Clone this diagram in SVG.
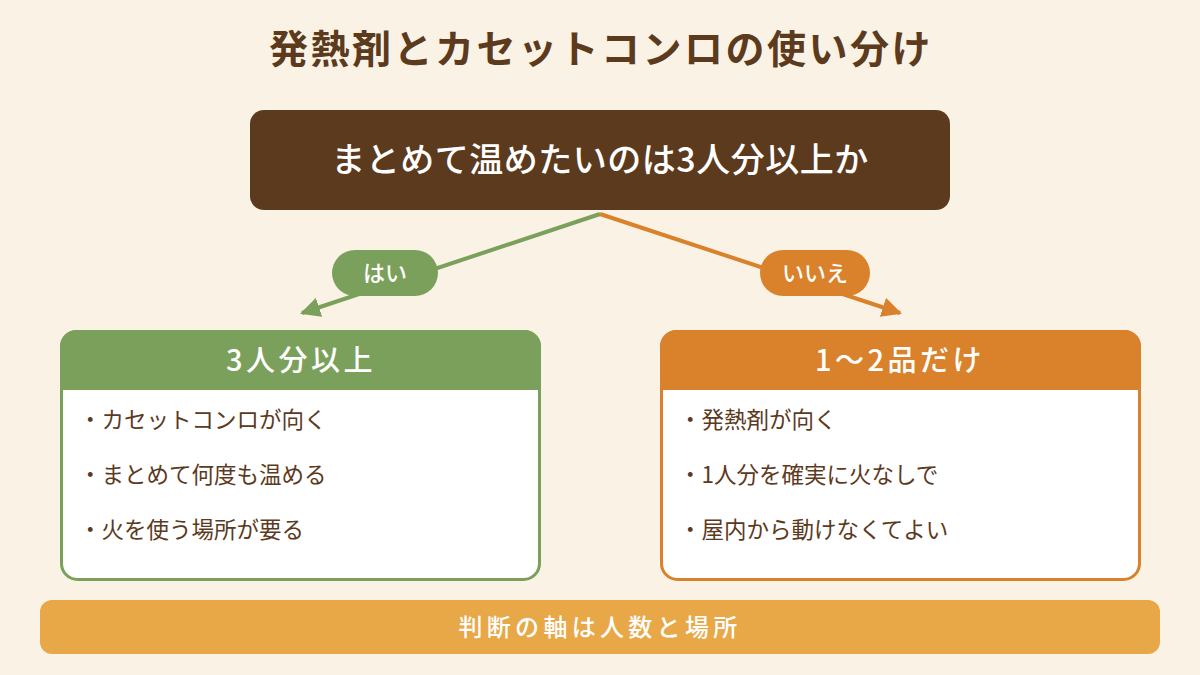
<svg xmlns="http://www.w3.org/2000/svg" width="1200" height="675" viewBox="0 0 1200 675">
<defs>
<style>
text{font-family:"Noto Sans CJK JP","Noto Sans",sans-serif;}
.title{font-size:39px;font-weight:700;fill:#5C3A1E;letter-spacing:2.5px;}
.q{font-size:34px;font-weight:500;fill:#fff;letter-spacing:0.5px;}
.pill{font-size:22px;font-weight:500;fill:#fff;}
.head{font-size:29px;font-weight:500;fill:#fff;letter-spacing:3.5px;}
.item{font-size:22.5px;fill:#5C3A1E;}
.foot{font-size:24px;font-weight:500;fill:#fff;letter-spacing:4.3px;}
</style>
<marker id="ag" viewBox="0 0 10 10" refX="9" refY="5" markerWidth="5" markerHeight="5" orient="auto" markerUnits="strokeWidth"><path d="M0,0 L10,5 L0,10 Z" fill="#7BA05B"/></marker>
<marker id="ao" viewBox="0 0 10 10" refX="9" refY="5" markerWidth="5" markerHeight="5" orient="auto" markerUnits="strokeWidth"><path d="M0,0 L10,5 L0,10 Z" fill="#D9822B"/></marker>
</defs>
<rect width="1200" height="675" fill="#FAF2E4"/>
<text class="title" x="601" y="63" text-anchor="middle">発熱剤とカセットコンロの使い分け</text>

<g id="connectors">
<line x1="600" y1="214" x2="302" y2="313" stroke="#7BA05B" stroke-width="4" marker-end="url(#ag)"/>
<line x1="600" y1="214" x2="900" y2="313" stroke="#D9822B" stroke-width="4" marker-end="url(#ao)"/>
</g>

<g id="question">
<rect x="250" y="110" width="700" height="100" rx="14" fill="#5C3A1E"/>
<text class="q" x="600" y="172" text-anchor="middle">まとめて温めたいのは3人分以上か</text>
</g>

<g id="yes-label">
<rect x="332" y="250" width="106" height="46" rx="23" fill="#7BA05B"/>
<text class="pill" x="385" y="281" text-anchor="middle">はい</text>
</g>
<g id="no-label">
<rect x="760" y="250" width="110" height="46" rx="23" fill="#D9822B"/>
<text class="pill" x="815" y="281" text-anchor="middle">いいえ</text>
</g>

<g id="left-card">
<rect x="61.5" y="331.5" width="478" height="248" rx="16" fill="#fff" stroke="#7BA05B" stroke-width="3"/>
<path d="M60,390 V346 A16,16 0 0 1 76,330 H525 A16,16 0 0 1 541,346 V390 Z" fill="#7BA05B"/>
<text class="head" x="301" y="371" text-anchor="middle">3人分以上</text>
<text class="item" x="79" y="428">・カセットコンロが向く</text>
<text class="item" x="79" y="483">・まとめて何度も温める</text>
<text class="item" x="79" y="538">・火を使う場所が要る</text>
</g>

<g id="right-card">
<rect x="661.5" y="331.5" width="478" height="248" rx="16" fill="#fff" stroke="#D9822B" stroke-width="3"/>
<path d="M660,390 V346 A16,16 0 0 1 676,330 H1125 A16,16 0 0 1 1141,346 V390 Z" fill="#D9822B"/>
<text class="head" x="900" y="371" text-anchor="middle">1〜2品だけ</text>
<text class="item" x="679" y="428">・発熱剤が向く</text>
<text class="item" x="679" y="483">・1人分を確実に火なしで</text>
<text class="item" x="679" y="538">・屋内から動けなくてよい</text>
</g>

<g id="footer">
<rect x="40" y="600" width="1120" height="54" rx="12" fill="#E8A847"/>
<text class="foot" x="600" y="636" text-anchor="middle">判断の軸は人数と場所</text>
</g>
</svg>
